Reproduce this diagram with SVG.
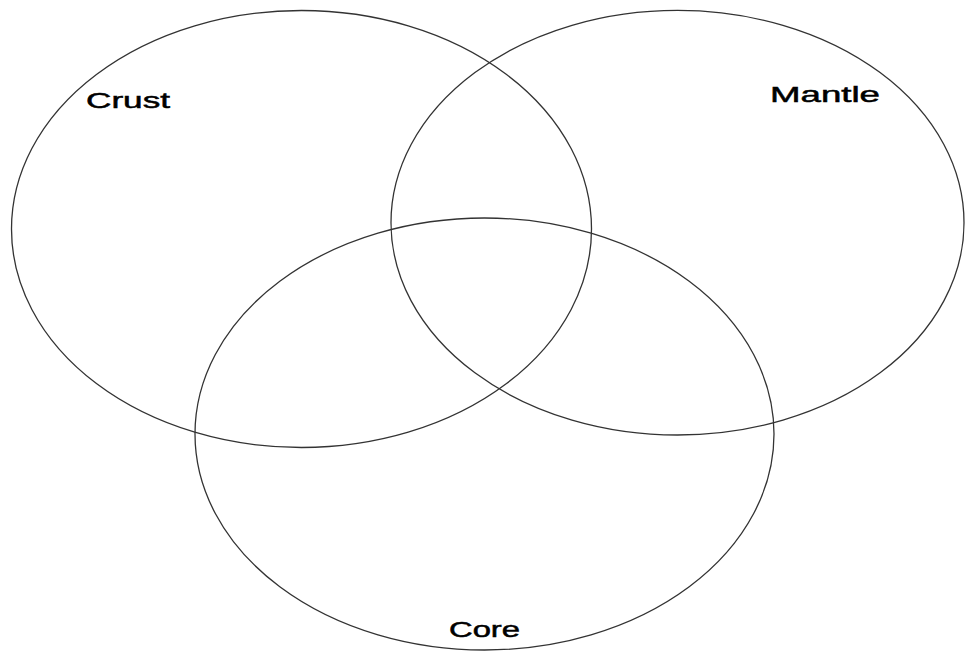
<svg xmlns="http://www.w3.org/2000/svg" width="965" height="652" viewBox="0 0 965 652">
<style>
.set{fill:none;stroke:#333;stroke-width:1.3}
.lbl{font-family:"Liberation Sans",Arial,sans-serif;font-size:22px;fill:#000;stroke:#000;stroke-width:0.5}
</style>
<rect width="965" height="652" fill="#fff"/>
<g id="crust"><ellipse class="set" cx="301.5" cy="229" rx="290" ry="218.5"/><text class="lbl" x="86" y="108" textLength="84" lengthAdjust="spacingAndGlyphs">Crust</text></g>
<g id="mantle"><ellipse class="set" cx="677.5" cy="222.7" rx="286.5" ry="212.3"/><text class="lbl" x="770" y="102" textLength="110" lengthAdjust="spacingAndGlyphs">Mantle</text></g>
<g id="core"><ellipse class="set" cx="484.5" cy="434" rx="289.5" ry="216"/><text class="lbl" x="449" y="637" textLength="71" lengthAdjust="spacingAndGlyphs">Core</text></g>
<g id="connectors"></g>
</svg>
